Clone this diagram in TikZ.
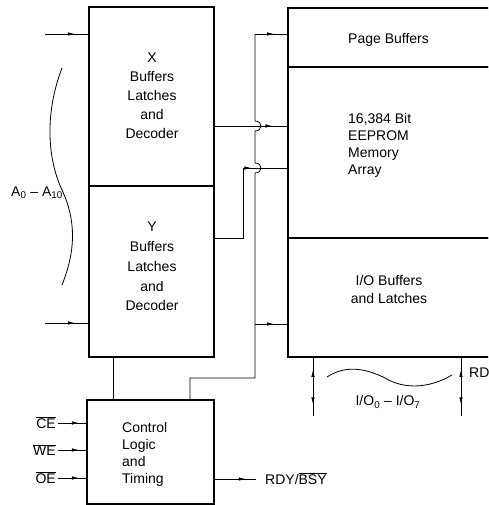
\documentclass[tikz,border=0pt]{standalone}
\usepackage{fontspec}
\setmainfont{Liberation Sans}
\usetikzlibrary{arrows.meta,decorations.markings}
\begin{document}
\begin{tikzpicture}[x=1pt,y=-1pt,
 box/.style={draw,line width=2.4pt,inner sep=0pt,rectangle},
 conn/.style={line width=0.8pt},
 marr/.style={postaction={decorate},decoration={markings,mark=at position #1 with {\arrow{Latex[length=7pt,width=3.5pt]}}}},
 bidir/.style={postaction={decorate},decoration={markings,
   mark=at position 0.2 with {\arrowreversed{Latex[length=7pt,width=3.5pt]}},
   mark=at position 0.8 with {\arrow{Latex[length=7pt,width=3.5pt]}}}},
 lbl/.style={font=\fontsize{14}{19}\selectfont,inner sep=0pt},
]
\clip (0,0) rectangle (488,505);
% boxes
\node[box,minimum width=125pt,minimum height=179pt] (X) at (151.5,96.5) {};
\node[box,minimum width=125pt,minimum height=171pt] (Y) at (151.5,271.5) {};
\node[box,minimum width=127pt,minimum height=104pt] (C) at (150.5,452) {};
\node[box,minimum width=212pt,minimum height=59pt] (P) at (394,37.5) {};
\node[box,minimum width=212pt,minimum height=171pt] (M) at (394,152.5) {};
\node[box,minimum width=212pt,minimum height=119pt] (IO) at (394,297.5) {};
% box texts
\node[lbl,align=center] (Xt) at (152,95.5) {X\\Buffers\\Latches\\and\\Decoder};
\node[lbl,align=center,font=\fontsize{14}{19.8}\selectfont] (Yt) at (152,266.5) {Y\\Buffers\\Latches\\and\\Decoder};
\node[lbl,align=left,anchor=west,font=\fontsize{14}{17}\selectfont] (Ct) at (122,454.5) {Control\\Logic\\and\\Timing};
\node[lbl,align=left,anchor=west,font=\fontsize{14}{17}\selectfont] (Mt) at (348,145) {16,384 Bit\\EEPROM\\Memory\\Array};
\node[lbl,anchor=west] (Pt) at (348,40) {Page Buffers};
\node[lbl,align=center,font=\fontsize{14}{18}\selectfont] (IOt) at (389,289) {I/O Buffers\\and Latches};
% address inputs
\coordinate (xin) at (45,34);
\coordinate (yin) at (45,323);
\draw[conn,marr=0.7] (xin) -- (X.west |- xin);
\draw[conn,marr=0.7] (yin) -- (Y.west |- yin);
\draw[line width=0.8pt] (62,68) .. controls (44,115) and (48,160) .. (62,190) .. controls (76,220) and (76,250) .. (62,285);
\node[lbl,anchor=east] (A) at (63,193) {A\textsubscript{0} -- A\textsubscript{10}};
% X to memory
\coordinate (xo) at (X.east |- 0,126);
\draw[conn,marr=0.8] (xo) -- (M.west |- xo);
% Y to memory
\coordinate (yo) at (Y.east |- 0,238);
\coordinate (ya) at (243,238);
\coordinate (yb) at (243,168);
\draw[conn,marr=0.75] (yo) -- (ya) -- (yb) -- (M.west |- yb);
% control bus
\coordinate (b0) at (255,34);
\coordinate (b1) at (255,324);
\coordinate (b2) at (255,378);
\coordinate (b3) at (190,378);
\draw[conn,marr=0.6] (b0) -- (P.west |- b0);
\draw[conn,marr=0.6] (b1) -- (IO.west |- b1);
\draw[conn] (b0) -- (255,121) .. controls (263,121) and (263,131) .. (255,131)
  -- (255,163) .. controls (263,163) and (263,173) .. (255,173)
  -- (b1) -- (b2) -- (b3) -- (b3 |- C.north);
\draw[conn] (113,0 |- Y.south) -- (113,0 |- C.north);
% control inputs
\node[lbl,anchor=east] (ce) at (56,423) {$\overline{\mbox{CE}}$};
\node[lbl,anchor=east] (we) at (56,450) {$\overline{\mbox{WE}}$};
\node[lbl,anchor=east] (oe) at (56,478) {$\overline{\mbox{OE}}$};
\draw[conn,marr=0.75] (ce.east) ++(2,0) -- (C.west |- ce);
\draw[conn,marr=0.75] (we.east) ++(2,0) -- (C.west |- we);
\draw[conn,marr=0.75] (oe.east) ++(2,0) -- (C.west |- oe);
\node[lbl,anchor=west] (rdy) at (265,479) {RDY/$\overline{\mbox{BSY}}$};
\draw[conn,marr=0.75] (C.east |- rdy) -- ([xshift=-9pt]rdy.west);
% I/O
\coordinate (io1) at (313,416);
\coordinate (io2) at (461,416);
\draw[conn,bidir] (IO.south -| io1) -- (io1);
\draw[conn,bidir] (IO.south -| io2) -- (io2);
\draw[line width=0.8pt] (327,377) .. controls (345,365) and (365,368) .. (385,378) .. controls (405,390) and (430,388) .. (452,375);
\node[lbl] (iol) at (388,402) {I/O\textsubscript{0} -- I/O\textsubscript{7}};
\node[lbl,anchor=west] (rd) at (469,373) {RD};
\end{tikzpicture}
\end{document}
